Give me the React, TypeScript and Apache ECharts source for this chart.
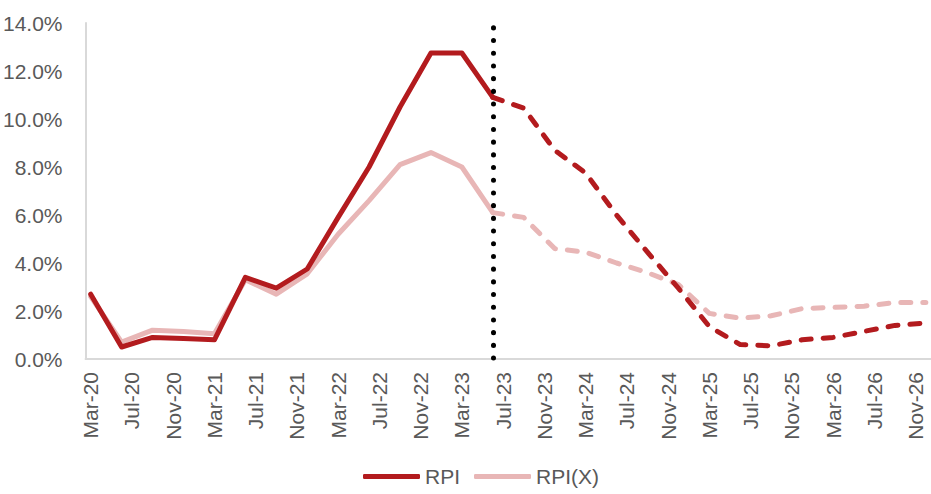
import React, { useEffect, useRef } from "react";
import * as echarts from "echarts";

// Quarterly observations (annual % change); actuals run to Jun-23, forecasts after
const quarters = [
  "Mar-20", "Jun-20", "Sep-20", "Dec-20",
  "Mar-21", "Jun-21", "Sep-21", "Dec-21",
  "Mar-22", "Jun-22", "Sep-22", "Dec-22",
  "Mar-23", "Jun-23", "Sep-23", "Dec-23",
  "Mar-24", "Jun-24", "Sep-24", "Dec-24",
  "Mar-25", "Jun-25", "Sep-25", "Dec-25",
  "Mar-26", "Jun-26", "Sep-26", "Dec-26",
];
const rpi = [
  2.7, 0.5, 0.9, 0.85,
  0.8, 3.4, 2.95, 3.75,
  5.9, 8.0, 10.5, 12.75,
  12.75, 10.9, 10.45, 8.7,
  7.75, 6.0, 4.45, 2.95,
  1.35, 0.6, 0.55, 0.8,
  0.9, 1.15, 1.4, 1.5,
];
const rpix = [
  2.6, 0.7, 1.2, 1.15,
  1.05, 3.3, 2.7, 3.55,
  5.2, 6.6, 8.1, 8.6,
  8.0, 6.1, 5.9, 4.6,
  4.45, 4.0, 3.6, 3.1,
  1.9, 1.7, 1.8, 2.1,
  2.15, 2.2, 2.35, 2.35,
];
const lastActual = "Jun-23";
const monthNames = ["Jan", "Feb", "Mar", "Apr", "May", "Jun", "Jul", "Aug", "Sep", "Oct", "Nov", "Dec"];

// Monthly category axis from Mar-20 to Dec-26
const months: string[] = [];
for (let y = 2020; y <= 2026; y++) {
  for (let m = y === 2020 ? 2 : 0; m < 12; m++) {
    months.push(`${monthNames[m]}-${String(y).slice(2)}`);
  }
}

const splitIdx = quarters.indexOf(lastActual);

function toMonthly(values: number[], from: number, to: number) {
  const byMonth = new Map<string, number>();
  quarters.forEach((q, i) => {
    if (i >= from && i <= to) byMonth.set(q, values[i]);
  });
  return months.map((m) => (byMonth.has(m) ? byMonth.get(m)! : null));
}

const RED = "#B31B1E";
const PINK = "#E8B6B6";
const GREY_TEXT = "#595959";
const AXIS = "#D9D9D9";
const FONT = "'Liberation Sans Narrow', 'Arial Narrow', 'Liberation Sans', Arial, sans-serif";

export default function App() {
  const ref = useRef<HTMLDivElement>(null);

  useEffect(() => {
    document.body.style.margin = "0";
    if (!ref.current) return;
    const chart = echarts.init(ref.current, undefined, { renderer: "svg" });
    const dash = [10, 12];
    chart.setOption({
      animation: false,
      backgroundColor: "#fff",
      textStyle: { fontFamily: FONT },
      grid: { left: 85, top: 23, width: 850, bottom: 135, containLabel: false },
      legend: {
        data: [
          { name: "RPI", icon: "roundRect" },
          { name: "RPI(X)", icon: "roundRect" },
        ],
        left: 358,
        top: 461,
        itemWidth: 57,
        itemHeight: 5,
        itemGap: 14,
        textStyle: { color: GREY_TEXT, fontSize: 21, fontFamily: FONT },
      },
      xAxis: {
        type: "category",
        data: months,
        boundaryGap: true,
        axisLine: { lineStyle: { color: AXIS, width: 2 } },
        axisTick: { interval: 3, length: 7, lineStyle: { color: AXIS, width: 2 } },
        axisLabel: {
          interval: 3,
          rotate: 90,
          margin: 13,
          color: GREY_TEXT,
          fontSize: 21,
          fontFamily: FONT,
        },
        splitLine: { show: false },
      },
      yAxis: {
        type: "value",
        min: 0,
        max: 14,
        interval: 2,
        axisLine: { show: true, lineStyle: { color: AXIS, width: 2 } },
        axisTick: { show: false },
        splitLine: { show: false },
        axisLabel: {
          margin: 23,
          color: GREY_TEXT,
          fontSize: 21,
          fontFamily: FONT,
          formatter: (v: number) => v.toFixed(1) + "%",
        },
      },
      series: [
        {
          name: "RPI(X)",
          type: "line",
          data: toMonthly(rpix, 0, splitIdx),
          connectNulls: true,
          symbol: "none",
          color: PINK,
          lineStyle: { color: PINK, width: 5, cap: "round", join: "round" },
          z: 2,
        },
        {
          name: "RPI(X)",
          type: "line",
          data: toMonthly(rpix, splitIdx, quarters.length - 1),
          connectNulls: true,
          symbol: "none",
          color: PINK,
          lineStyle: { color: PINK, width: 5, type: dash, cap: "round", join: "round" },
          z: 2,
        },
        {
          name: "RPI",
          type: "line",
          data: toMonthly(rpi, 0, splitIdx),
          connectNulls: true,
          symbol: "none",
          color: RED,
          lineStyle: { color: RED, width: 5, cap: "round", join: "round" },
          z: 3,
          markLine: {
            silent: true,
            symbol: "none",
            label: { show: false },
            lineStyle: { color: "#000", width: 5, type: [0.1, 12.6], cap: "round" },
            data: [[{ coord: [lastActual, 13.8] }, { coord: [lastActual, 0] }]],
          },
        },
        {
          name: "RPI",
          type: "line",
          data: toMonthly(rpi, splitIdx, quarters.length - 1),
          connectNulls: true,
          symbol: "none",
          color: RED,
          lineStyle: { color: RED, width: 5, type: dash, cap: "round", join: "round" },
          z: 3,
        },
      ],
    });
    return () => chart.dispose();
  }, []);

  return <div ref={ref} style={{ width: 931, height: 494 }} />;
}
